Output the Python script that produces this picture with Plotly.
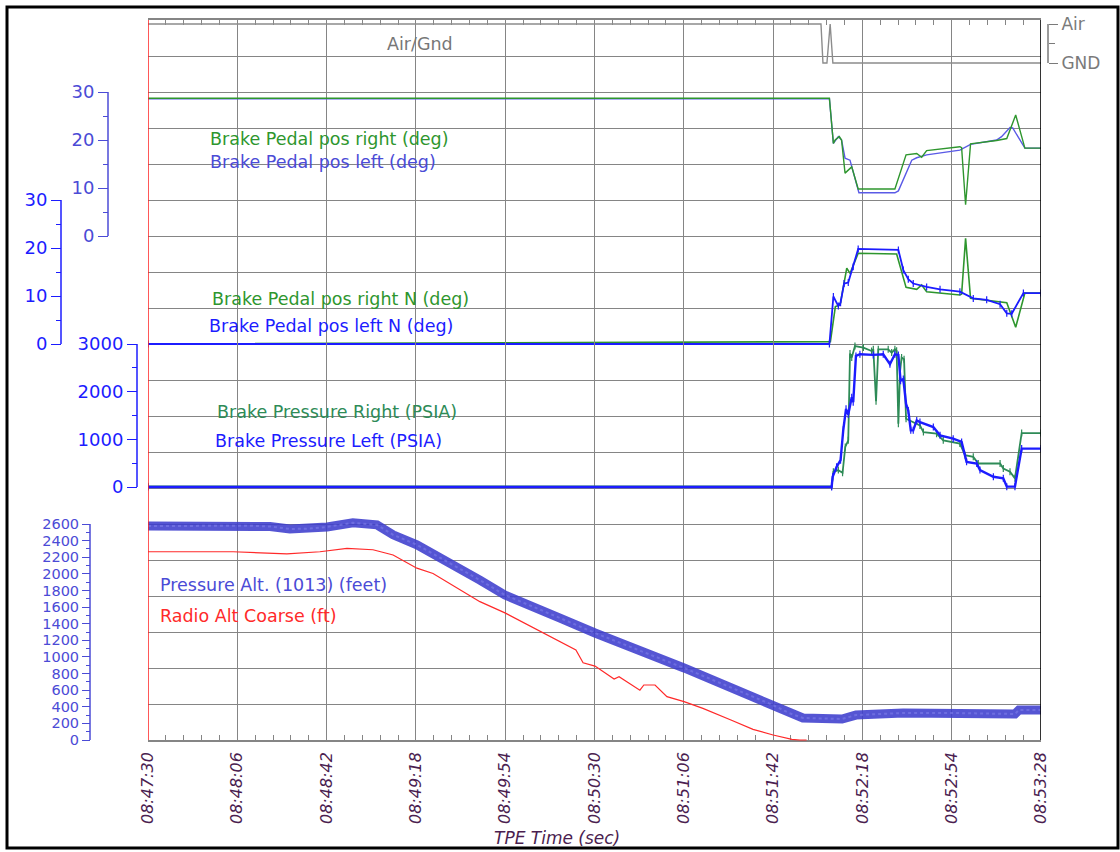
import plotly.graph_objects as go

W, H = 1120, 852

# ---------------- time axis (seconds after 08:47:30) ----------------
tick_secs = [0, 36, 72, 108, 144, 180, 216, 252, 288, 324, 360]
tick_text = ["08:47:30", "08:48:06", "08:48:42", "08:49:18", "08:49:54", "08:50:30",
             "08:51:06", "08:51:42", "08:52:18", "08:52:54", "08:53:28"]

# ---------------- Air/Gnd discrete (1 = Air, 0 = GND) ----------------
airgnd_t = [0, 271.3, 272.1, 273.7, 275.0, 276.1, 360]
airgnd_v = [1, 1, 0, 0, 1, 0, 0]

# ---------------- Brake pedal position (deg) ----------------
pedal_r_t = [0, 274.7, 276.3, 277.0, 278.7, 279.6, 281.0, 282.3, 283.7, 286.3, 301.1, 305.6,
             309.9, 311.9, 313.9, 327.3, 328.0, 329.6, 331.6, 342.1, 346.2, 349.8, 353.5, 360]
pedal_r_v = [28.7, 28.7, 19.3, 20.0, 20.7, 20.0, 13.1, 13.75, 14.4, 9.8, 9.8, 16.9,
             17.2, 16.4, 17.8, 18.6, 18.4, 6.5, 19.2, 19.9, 20.3, 25.2, 18.3, 18.3]
pedal_l_t = [0, 274.7, 276.3, 277.0, 278.3, 279.6, 281.0, 283.0, 283.7, 286.6, 301.1, 302.5,
             307.9, 309.9, 313.9, 327.3, 331.6, 342.1, 344.1, 347.5, 348.6, 353.5, 360]
pedal_l_v = [28.6, 28.6, 19.3, 19.8, 20.7, 20.0, 16.2, 15.8, 14.4, 9.0, 9.0, 9.4,
             15.8, 16.3, 16.9, 17.9, 19.1, 20.0, 20.7, 22.6, 22.5, 18.3, 18.3]

# ---------------- Brake pedal position N (deg) ----------------
pedal_rn_t = [0, 275.1, 277.1, 279.0, 281.7, 283.0, 286.3, 301.8, 305.6, 309.9, 311.9, 313.9,
              327.3, 328.0, 329.6, 331.6, 346.2, 349.8, 353.5, 360]
pedal_rn_v = [0.0, 0.5, 7.8, 8.1, 15.8, 14.7, 18.9, 18.75, 11.8, 11.4, 12.3, 10.9,
              10.2, 10.4, 22.0, 9.5, 8.6, 3.5, 10.6, 10.6]
pedal_ln_t = [0, 274.7, 276.3, 278.3, 279.2, 280.6, 282.3, 284.3, 286.3, 302.5, 304.5, 306.5,
              308.5, 313.9, 319.3, 327.3, 332.7, 338.1, 343.5, 346.2, 348.2, 352.9, 360]
pedal_ln_v = [0.0, 0.0, 9.9, 7.9, 8.6, 12.6, 12.8, 16.1, 19.8, 19.6, 15.4, 13.5,
              12.6, 11.9, 11.4, 10.9, 9.5, 9.2, 8.3, 6.4, 6.3, 10.6, 10.6]

# ---------------- Brake pressure (PSIA) ----------------
press_r_t = [0, 275.6, 276.3, 278.3, 280.0, 281.1, 282.3, 283.0, 283.7, 285.0, 288.4, 291.7,
             292.4, 293.5, 294.4, 298.4, 299.8, 301.1, 301.8, 302.5, 303.2, 303.8, 304.8,
             305.6, 311.2, 312.6, 317.9, 320.6, 327.3, 329.4, 332.7, 334.7, 343.5, 344.8,
             347.5, 349.5, 352.2, 360]
press_r_v = [15, 15, 319, 354, 299, 840, 979, 2799, 2715, 2958, 2924, 2854,
             2889, 1799, 2889, 2889, 2819, 2889, 2860, 1326, 2438, 2715, 2681,
             1431, 1292, 1153, 1118, 979, 910, 667, 632, 493, 493, 389,
             319, 181, 1132, 1132]
press_l_t = [0, 275.6, 276.0, 277.6, 279.2, 280.3, 281.4, 282.3, 283.7, 284.3, 285.4, 287.0,
             292.4, 296.4, 299.1, 301.1, 302.5, 303.4, 304.5, 305.6, 306.5, 307.5, 308.5,
             309.9, 311.2, 316.6, 319.3, 324.6, 328.0, 330.0, 334.1, 335.4, 340.8, 344.8,
             346.2, 349.5, 352.2, 360]
press_l_v = [0, 0, 215, 423, 563, 1201, 1639, 1521, 1882, 1778, 2750, 2785,
             2771, 2785, 2576, 2785, 2771, 2229, 2264, 1743, 1604, 1188, 1188,
             1396, 1361, 1257, 1083, 1014, 944, 528, 493, 354, 215, 181,
             7, 7, 806, 806]

# ---------------- Altitudes (ft) ----------------
palt_t = [0, 34.3, 41.1, 49.2, 57.2, 65.3, 72.2, 82.6, 92.3, 98.8, 108.4, 133.8, 143.9,
          166.1, 180.2, 216.1, 252.0, 258.4, 264.0, 279.8, 285.4, 304.4, 324.5, 349.5,
          351.1, 360]
palt_v = [2575, 2580, 2580, 2570, 2540, 2545, 2565, 2615, 2590, 2470, 2350, 1925, 1745,
          1468, 1288, 867, 420, 325, 265, 253, 300, 325, 325, 313,
          361, 361]
ralt_t = [0, 34.3, 56.0, 69.3, 80.2, 90.7, 98.8, 108.4, 114.9, 133.8, 143.9, 166.1, 172.5,
          175.4, 180.2, 187.9, 189.9, 198.3, 199.9, 204.4, 209.2, 216.1, 223.7, 235.0,
          243.9, 252.0, 259.6, 262.8, 265.5]
ralt_v = [2266, 2266, 2240, 2266, 2307, 2290, 2227, 2068, 2005, 1665, 1530, 1183, 1083,
          930, 890, 735, 762, 600, 662, 662, 522, 462, 381, 240,
          128, 60, 8, 0, 0]

# ---------------- axis ticks ----------------
pedal_ticks = [0, 10, 20, 30]
pedal_minor = [5, 15, 25]
press_ticks = [0, 1000, 2000, 3000]
press_minor = [500, 1500, 2500]
alt_ticks = list(range(0, 2601, 200))
alt_minor = list(range(100, 2600, 200))

# ---------------- styling ----------------
FONT = "DejaVu Sans"
GRID = "#858585"
PURPLE = "#4b1e50"
GREEN = "#2e962e"
GREEN_P = "#2e8b57"
BLUE_SOFT = "#4b4bd6"
BLUE = "#1c1cff"
RED = "#ff2a2a"
GRAY = "#7a7a7a"

PLOT_L, PLOT_R = 148, 1041
GRID_TOP, GRID_BOT = 20, 740


def py(px):
    return (H - px) / H


def dom(px_lo, px_hi):
    return [py(px_lo), py(px_hi)]


def ext_domain(p_lo, p_hi, r_lo, r_hi, e_lo, e_hi):
    # keep the pixel scale of [r_lo, r_hi] -> [p_lo, p_hi] while widening the range
    s = (p_lo - p_hi) / (r_hi - r_lo)
    return dom(p_lo + (r_lo - e_lo) * s, p_hi - (e_hi - r_hi) * s)


fig = go.Figure()

layout = dict(
    template="none",
    width=W, height=H, margin=dict(l=0, r=0, t=0, b=0, pad=0), autosize=False,
    paper_bgcolor="white", plot_bgcolor="rgba(0,0,0,0)",
    showlegend=False, font=dict(family=FONT),
    xaxis=dict(
        domain=[PLOT_L / W, PLOT_R / W], range=[0, 360], anchor="y", automargin=False,
        tickmode="array", tickvals=tick_secs, ticktext=tick_text, tickangle=-90,
        tickfont=dict(family=FONT, size=16, color=PURPLE, style="italic"),
        showgrid=True, gridcolor=GRID, gridwidth=1.4, zeroline=False,
        showline=True, linecolor=GRID, linewidth=1.5, mirror="ticks",
        ticks="inside", ticklen=5, tickcolor=GRID, ticklabelstandoff=4,
        minor=dict(dtick=7.2, tick0=0, ticks="inside", ticklen=5, tickcolor=GRID, showgrid=False),
    ),
    yaxis=dict(
        domain=dom(GRID_BOT, GRID_TOP), range=[0, 20], tickmode="linear", tick0=0, dtick=1,
        showgrid=True, gridcolor=GRID, gridwidth=1.4, zeroline=False, automargin=False,
        showticklabels=False, ticks="", showline=False,
    ),
)

shapes = []


def value_axis(px_lo, px_hi, rng, ext, xpos, color, tickvals, minor_vals, size=18,
               ticklen=10, minor_len=5, side="left", ticktext=None):
    d = dict(
        domain=ext_domain(px_lo, px_hi, rng[0], rng[1], ext[0], ext[1]), range=list(ext),
        anchor="free", position=xpos / W, side=side, automargin=False,
        tickmode="array", tickvals=tickvals, ticks="outside", ticklen=ticklen,
        tickcolor=color, tickwidth=1.3, showline=False,
        tickfont=dict(family=FONT, size=size, color=color),
        showgrid=False, zeroline=False, ticklabelstandoff=0, fixedrange=True,
    )
    if ticktext is not None:
        d["ticktext"] = ticktext
    if minor_vals:
        d["minor"] = dict(tickmode="array", tickvals=minor_vals, ticks="outside",
                          ticklen=minor_len, tickcolor=color, tickwidth=1.3, showgrid=False)
    return d


def spine(axis_id, xpos, rng, color):
    # vertical axis line covering only the labelled span of the scale
    return dict(type="line", xref="paper", yref=axis_id, x0=xpos / W, x1=xpos / W,
                y0=rng[0], y1=rng[1], line=dict(color=color, width=1.5))


# Air/Gnd discrete scale (right side)
layout["yaxis2"] = value_axis(63, 24, [0, 1], (-0.06, 1.1), 1048, GRAY, [0, 1], [0.5],
                              size=17, ticklen=9, minor_len=6, side="right",
                              ticktext=["GND", "Air"])
shapes.append(spine("y2", 1048, [0, 1], GRAY))
# Brake pedal position
layout["yaxis3"] = value_axis(236, 92, [0, 30], (-1, 31), 108, BLUE_SOFT, pedal_ticks, pedal_minor)
shapes.append(spine("y3", 108, [0, 30], BLUE_SOFT))
# Brake pedal position N
layout["yaxis4"] = value_axis(344, 200, [0, 30], (-1, 31), 61, BLUE, pedal_ticks, pedal_minor)
shapes.append(spine("y4", 61, [0, 30], BLUE))
# Brake pressure
layout["yaxis5"] = value_axis(487, 344, [0, 3000], (-100, 3100), 137, BLUE, press_ticks, press_minor)
shapes.append(spine("y5", 137, [0, 3000], BLUE))
# Altitude (tightly stacked labels)
layout["yaxis6"] = value_axis(740, 524, [0, 2600], (-12, 2700), 90, BLUE_SOFT, alt_ticks, alt_minor,
                              size=14.5, ticklen=8, minor_len=4)
shapes.append(spine("y6", 90, [0, 2600], BLUE_SOFT))

# ---------------- traces ----------------
fig.add_trace(go.Scatter(x=airgnd_t, y=airgnd_v, yaxis="y2", mode="lines",
                         line=dict(color="#8c8c8c", width=1.4)))

fig.add_trace(go.Scatter(x=pedal_l_t, y=pedal_l_v, yaxis="y3", mode="lines",
                         line=dict(color="#5a5ae6", width=1.4)))
fig.add_trace(go.Scatter(x=pedal_r_t, y=pedal_r_v, yaxis="y3", mode="lines",
                         line=dict(color=GREEN, width=1.4)))

tick_marker = dict(symbol="line-ns-open", size=5, line=dict(width=1.2))
fig.add_trace(go.Scatter(x=pedal_rn_t, y=pedal_rn_v, yaxis="y4", mode="lines",
                         line=dict(color=GREEN, width=1.6)))
fig.add_trace(go.Scatter(x=pedal_ln_t, y=pedal_ln_v, yaxis="y4", mode="lines+markers",
                         line=dict(color=BLUE, width=1.8),
                         marker=dict(color=BLUE, **tick_marker)))

fig.add_trace(go.Scatter(x=press_r_t, y=press_r_v, yaxis="y5", mode="lines+markers",
                         line=dict(color=GREEN_P, width=1.8),
                         marker=dict(color=GREEN_P, **tick_marker)))
fig.add_trace(go.Scatter(x=press_l_t, y=press_l_v, yaxis="y5", mode="lines+markers",
                         line=dict(color=BLUE, width=2.4),
                         marker=dict(color=BLUE, **tick_marker)))

fig.add_trace(go.Scatter(x=ralt_t, y=ralt_v, yaxis="y6", mode="lines",
                         line=dict(color=RED, width=1.2)))
fig.add_trace(go.Scatter(x=palt_t, y=palt_v, yaxis="y6", mode="lines",
                         line=dict(color="rgba(62,62,205,0.88)", width=9)))
fig.add_trace(go.Scatter(x=palt_t, y=palt_v, yaxis="y6", mode="lines",
                         line=dict(color="rgba(130,130,235,0.55)", width=2, dash="dot")))

# time cursors at both ends of the window
fig.add_trace(go.Scatter(x=[0, 0], y=[20.17, -0.15], yaxis="y", mode="markers",
                         cliponaxis=False,
                         marker=dict(symbol=["triangle-down", "triangle-up"], size=9, color="#ff1010")))
fig.add_trace(go.Scatter(x=[360, 360], y=[20.17, -0.15], yaxis="y", mode="markers",
                         cliponaxis=False,
                         marker=dict(symbol=["triangle-down", "triangle-up"], size=9, color="black")))

shapes += [
    dict(type="line", xref="x", yref="paper", x0=0, x1=0, y0=py(GRID_BOT), y1=py(GRID_TOP),
         line=dict(color="#ff2020", width=1.5)),
    dict(type="line", xref="x", yref="paper", x0=360, x1=360, y0=py(GRID_BOT), y1=py(GRID_TOP),
         line=dict(color="black", width=1.6)),
    dict(type="rect", xref="paper", yref="paper", x0=7 / W, x1=1118 / W, y0=py(848), y1=py(7),
         line=dict(color="black", width=3)),
]

labels = [
    ("Air/Gnd", 385, 44, "#777777"),
    ("Brake Pedal pos right (deg)", 208, 139, GREEN),
    ("Brake Pedal pos left (deg)", 208, 162, BLUE_SOFT),
    ("Brake Pedal pos right N (deg)", 210, 299, GREEN),
    ("Brake Pedal pos left N (deg)", 207, 326, BLUE),
    ("Brake Pressure Right (PSIA)", 215, 412, GREEN_P),
    ("Brake Pressure Left (PSIA)", 213, 441, BLUE),
    ("Pressure Alt. (1013) (feet)", 158, 585, BLUE_SOFT),
    ("Radio Alt Coarse (ft)", 158, 616, RED),
]
annotations = [
    dict(text=t, xref="paper", yref="paper", x=xp / W, y=py(yp), xanchor="left",
         yanchor="middle", showarrow=False, font=dict(family=FONT, size=17.5, color=c))
    for t, xp, yp, c in labels
]
annotations.append(dict(text="TPE Time (sec)", xref="paper", yref="paper", x=557 / W, y=py(838),
                        xanchor="center", yanchor="middle", showarrow=False,
                        font=dict(family=FONT, size=17, color=PURPLE, style="italic")))

layout["shapes"] = shapes
layout["annotations"] = annotations
fig.update_layout(**layout)

fig.write_html("out.html")
